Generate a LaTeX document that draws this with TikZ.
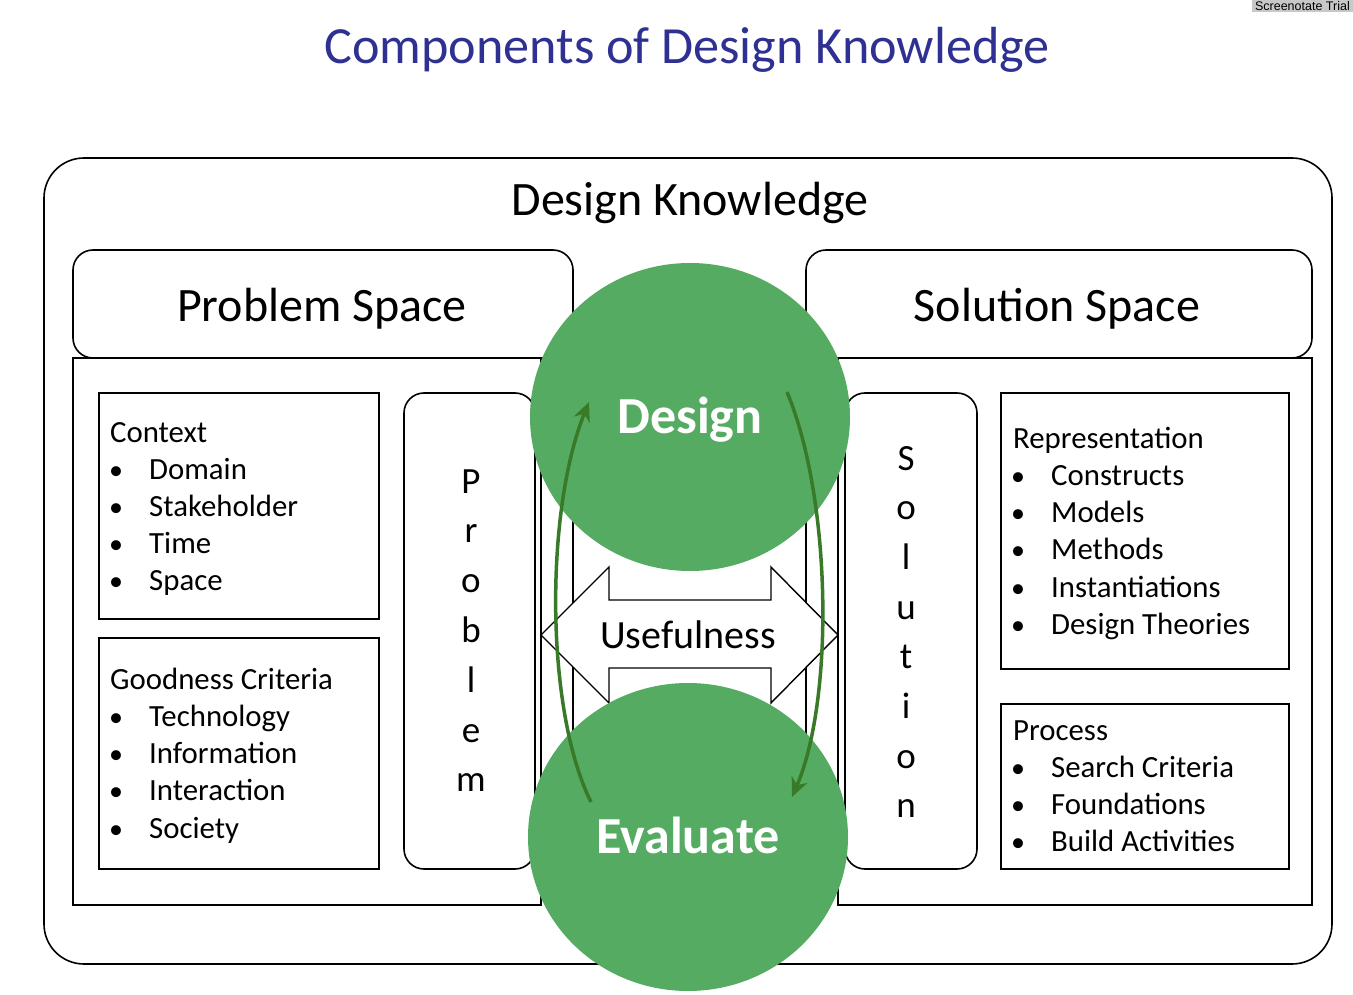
\documentclass[tikz,border=0pt]{standalone}
\usepackage{fontspec}
\setmainfont{Carlito}
\newfontfamily\arialfont{Liberation Sans}
\usetikzlibrary{arrows.meta,shapes.geometric}
\definecolor{titleblue}{RGB}{47,49,146}
\definecolor{circgreen}{RGB}{86,171,98}
\definecolor{arrgreen}{RGB}{56,122,40}
\definecolor{wmgrey}{RGB}{200,200,200}
\begin{document}
\begin{tikzpicture}[x=1pt,y=-1pt,
  box/.style={draw=black,line width=1.6pt},
  rbox/.style={draw=black,line width=1.6pt,rounded corners=20pt},
  listtext/.style={anchor=base west,inner sep=0pt,font=\fontsize{30.8}{30.8}\selectfont},
  bul/.style={anchor=base,inner sep=0pt,font=\fontsize{28}{28}\selectfont},
  vlet/.style={anchor=base,inner sep=0pt,font=\fontsize{37}{37}\selectfont},
  head/.style={anchor=base,inner sep=0pt,font=\fontsize{48}{48}\selectfont},
  circ/.style={ellipse,fill=circgreen,draw=none,minimum width=320pt,minimum height=308pt,inner sep=0pt},
  ctext/.style={anchor=base,inner sep=0pt,text=white,font=\bfseries\fontsize{52}{52}\selectfont},
  garrow/.style={draw=arrgreen,line width=3.5pt,-{Stealth[length=19pt,width=17pt]}}
]
\useasboundingbox (0,0) rectangle (1353,995);
\fill[white] (0,0) rectangle (1353,995);

% watermark
\node[fill=wmgrey,anchor=north east,inner xsep=3pt,inner ysep=1.5pt,font=\arialfont\fontsize{12.5}{12.5}\selectfont] (wm) at (1353,0) {Screenotate Trial};

% title
\node[anchor=base,inner sep=0pt,text=titleblue,font=\fontsize{52.2}{52.2}\selectfont] (title) at (687,64) {Components of Design Knowledge};

% outer box
\draw[draw=black,line width=1.6pt,rounded corners=40pt] (44,158) rectangle (1332,964);
\node[head] (dk) at (690,216) {Design Knowledge};

% problem space
\draw[box] (73,358) rectangle (541,905);
\draw[rbox] (73,250) rectangle (573,358);
\node[head] (ps) at (322,321) {Problem Space};

% solution space
\draw[box] (838,358) rectangle (1312,905);
\draw[rbox] (806,250) rectangle (1312,358);
\node[head] (ss) at (1057,321) {Solution Space};

% centre column
\draw[box] (573,515) rectangle (806,735);

% Context box
\draw[box] (99,393) rectangle (379,619);
\node[listtext] (c0) at (110,442) {Context};
\foreach \t [count=\i] in {Domain,Stakeholder,Time,Space}{
  \node[bul] (cb\i) at (116,442+37*\i) {•};
  \node[listtext] (c\i) at (149,442+37*\i) {\t};
}

% Goodness box
\draw[box] (99,638) rectangle (379,869);
\node[listtext] (g0) at (110,689) {Goodness Criteria};
\foreach \t [count=\i] in {Technology,Information,Interaction,Society}{
  \node[bul] (gb\i) at (116,689+37.3*\i) {•};
  \node[listtext] (g\i) at (149,689+37.3*\i) {\t};
}

% Representation box
\draw[box] (1001,393) rectangle (1289,669);
\node[listtext] (r0) at (1013,448) {Representation};
\foreach \t [count=\i] in {Constructs,Models,Methods,Instantiations,Design Theories}{
  \node[bul] (rb\i) at (1018,448+37.3*\i) {•};
  \node[listtext] (r\i) at (1051,448+37.3*\i) {\t};
}

% Process box
\draw[box] (1001,704) rectangle (1289,869);
\node[listtext] (q0) at (1013,740) {Process};
\foreach \t [count=\i] in {Search Criteria,Foundations,Build Activities}{
  \node[bul] (qb\i) at (1018,740+37.3*\i) {•};
  \node[listtext] (q\i) at (1051,740+37.3*\i) {\t};
}

% Problem vertical box
\draw[rbox] (404,393) rectangle (535,869);
\foreach \l [count=\i from 0] in {P,r,o,b,l,e,m}{
  \node[vlet] (pl\i) at (471,493+49.8*\i) {\l};
}

% Solution vertical box
\draw[rbox] (845,393) rectangle (977,869);
\foreach \l [count=\i from 0] in {S,o,l,u,t,i,o,n}{
  \node[vlet] (sl\i) at (906,470+49.7*\i) {\l};
}

% Usefulness double arrow
\draw[draw=black,line width=1.4pt,fill=white] (541,635) -- (609,567) -- (609,600) -- (771,600) -- (771,567) -- (838,635) -- (771,703) -- (771,668) -- (609,668) -- (609,703) -- cycle;
\node[anchor=base,inner sep=0pt,font=\fontsize{40}{40}\selectfont] (use) at (688,648) {Usefulness};

% circles
\node[circ] (design) at (690,417) {};
\node[circ] (evaluate) at (688,837) {};
\node[ctext] (dt) at (690,433) {Design};
\node[ctext] (et) at (688,853) {Evaluate};

% green arrows
\coordinate (la0) at (591,802);
\coordinate (la1) at (589,402);
\coordinate (ra0) at (787,392);
\coordinate (ra1) at (792,797);
\draw[garrow] (la0) .. controls (545,710) and (545,510) .. (la1);
\draw[garrow] (ra0) .. controls (832,500) and (834,700) .. (ra1);
\end{tikzpicture}
\end{document}
